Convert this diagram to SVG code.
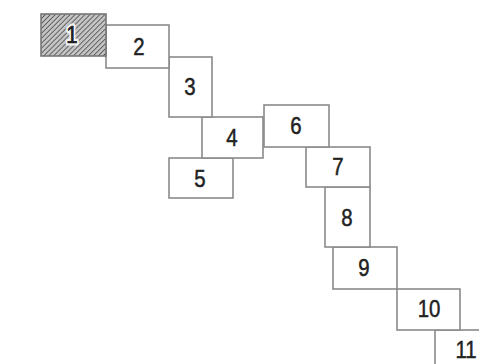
<svg xmlns="http://www.w3.org/2000/svg" width="479" height="364" viewBox="0 0 479 364">
<style>
.b{fill:#fff;stroke:#8a8a8a;stroke-width:1.6}
.t{font-family:"Liberation Sans",Arial,sans-serif;font-size:24px;fill:#222;stroke:#222;stroke-width:0.5;text-anchor:middle;dominant-baseline:central}
.h{fill:url(#hatch);stroke:#777;stroke-width:1.6}
.tw{paint-order:stroke;stroke:#f4f4f4;stroke-width:5px;stroke-linejoin:round}
</style>
<defs>
<pattern id="hatch" patternUnits="userSpaceOnUse" width="3.5" height="3.5" patternTransform="rotate(45)">
<rect width="3.5" height="3.5" fill="#c4c4c4"/>
<line x1="0" y1="0" x2="0" y2="3.5" stroke="#444" stroke-width="1.5"/>
</pattern>
</defs>
<g id="connectors"></g>
<g id="n11"><rect class="b" x="435" y="330" width="60" height="50"/><text class="t" transform="translate(466,350) scale(0.85,1)">11</text></g>
<g id="n10"><rect class="b" x="397" y="289" width="63" height="41"/><text class="t" transform="translate(429,309) scale(0.85,1)">10</text></g>
<g id="n9"><rect class="b" x="333" y="247" width="64" height="42"/><text class="t" transform="translate(364,268) scale(0.85,1)">9</text></g>
<g id="n8"><rect class="b" x="325" y="187" width="45" height="60"/><text class="t" transform="translate(347,218) scale(0.85,1)">8</text></g>
<g id="n7"><rect class="b" x="306" y="147" width="64" height="40"/><text class="t" transform="translate(338,167) scale(0.85,1)">7</text></g>
<g id="n6"><rect class="b" x="264" y="105" width="65" height="42"/><text class="t" transform="translate(296,126) scale(0.85,1)">6</text></g>
<g id="n5"><rect class="b" x="169" y="158" width="64" height="40"/><text class="t" transform="translate(200,179) scale(0.85,1)">5</text></g>
<g id="n4"><rect class="b" x="202" y="117" width="61" height="41"/><text class="t" transform="translate(232,138) scale(0.85,1)">4</text></g>
<g id="n3"><rect class="b" x="169" y="57" width="43" height="60"/><text class="t" transform="translate(190,87) scale(0.85,1)">3</text></g>
<g id="n2"><rect class="b" x="106" y="25" width="63" height="43"/><text class="t" transform="translate(139,47) scale(0.85,1)">2</text></g>
<g id="n1"><rect class="h" x="41" y="14" width="65" height="42"/><text class="t tw" transform="translate(72,35) scale(0.85,1)">1</text><text class="t" transform="translate(72,35) scale(0.85,1)">1</text></g>
</svg>
